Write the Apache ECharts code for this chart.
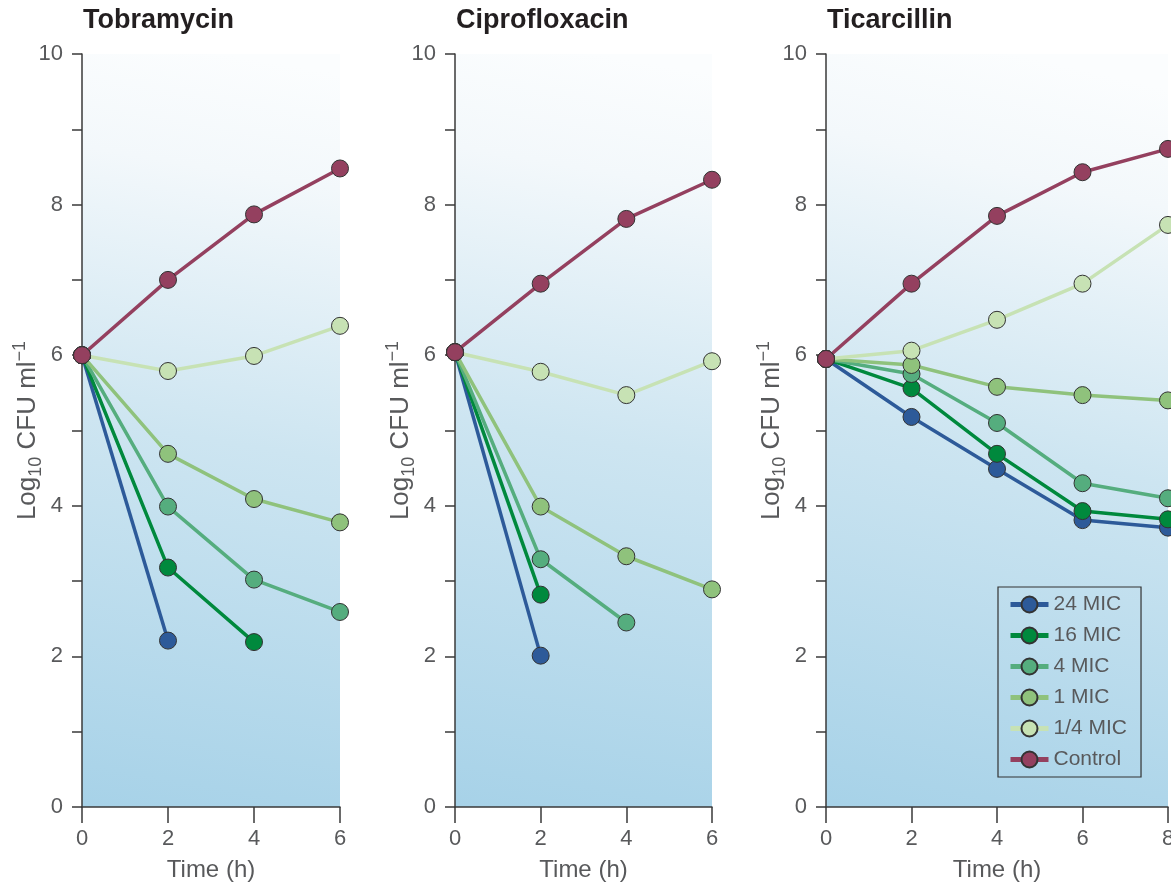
<!DOCTYPE html>
<html>
<head>
<meta charset="utf-8">
<title>Time-kill curves</title>
<script src="https://cdn.jsdelivr.net/npm/echarts@6/dist/echarts.min.js"></script>
<style>
  html, body { margin: 0; padding: 0; background: #fff; }
  #chart { width: 1171px; height: 885px; }
</style>
</head>
<body>
<div id="chart"></div>
<script>
// series names and colours (legend order)
var seriesNames = ['24 MIC', '16 MIC', '4 MIC', '1 MIC', '1/4 MIC', 'Control'];
var seriesColors = ['#2d5a99', '#00893d', '#55ad7e', '#8fc27c', '#c7e2b4', '#94405f'];
var drugNames = ['Tobramycin', 'Ciprofloxacin', 'Ticarcillin'];

// sampling times (h)
var timesShort = [0, 2, 4, 6];
var timesLong = [0, 2, 4, 6, 8];
var xTickLabels = ['0', '2', '4', '6', '8'];
var yTickLabels = ['0', '2', '4', '6', '8', '10'];

// log10 CFU/ml, one array per concentration
var tobra24 = [6.0, 2.21];
var tobra16 = [6.0, 3.18, 2.19];
var tobra4 = [6.0, 3.99, 3.02, 2.59];
var tobra1 = [6.0, 4.69, 4.09, 3.78];
var tobraQuarter = [6.0, 5.79, 5.99, 6.39];
var tobraControl = [6.0, 7.0, 7.87, 8.48];

var cipro24 = [6.04, 2.01];
var cipro16 = [6.04, 2.82];
var cipro4 = [6.04, 3.29, 2.45];
var cipro1 = [6.04, 3.99, 3.33, 2.89];
var ciproQuarter = [6.04, 5.78, 5.47, 5.92];
var ciproControl = [6.04, 6.95, 7.81, 8.33];

var ticar24 = [5.95, 5.18, 4.49, 3.81, 3.71];
var ticar16 = [5.95, 5.56, 4.69, 3.93, 3.82];
var ticar4 = [5.95, 5.75, 5.1, 4.3, 4.1];
var ticar1 = [5.95, 5.87, 5.58, 5.47, 5.4];
var ticarQuarter = [5.95, 6.06, 6.47, 6.95, 7.73];
var ticarControl = [5.95, 6.95, 7.85, 8.43, 8.74];

var panels = [
  { times: timesShort, max: 6, values: [tobra24, tobra16, tobra4, tobra1, tobraQuarter, tobraControl] },
  { times: timesShort, max: 6, values: [cipro24, cipro16, cipro4, cipro1, ciproQuarter, ciproControl] },
  { times: timesLong, max: 8, values: [ticar24, ticar16, ticar4, ticar1, ticarQuarter, ticarControl] }
];

// grid placement, pixels
var gridLefts = [82, 455, 826];
var gridWidths = [258, 257, 342];

var textColor = '#58595b';
var axisColor = '#3a3a3a';
var fontFamily = '"Liberation Sans", Arial, sans-serif';

function plotBackground() {
  return new echarts.graphic.LinearGradient(0.05, 1, 0.55, 0, [
    { offset: 0, color: '#a7d2e8' },
    { offset: 0.5, color: '#cde5f1' },
    { offset: 0.85, color: '#f3f8fb' },
    { offset: 1, color: '#fbfdfe' }
  ]);
}

var option = {
  animation: false,
  textStyle: { fontFamily: fontFamily },
  title: [],
  grid: [],
  xAxis: [],
  yAxis: [],
  series: [],
  legend: {
    data: seriesNames,
    orient: 'vertical',
    left: 998,
    top: 587,
    padding: [7, 14, 7, 10],
    itemWidth: 38,
    itemHeight: 20,
    itemGap: 10,
    borderColor: '#333',
    borderWidth: 1.2,
    borderRadius: 0,
    lineStyle: { width: 5 },
    textStyle: { fontSize: 21, lineHeight: 20, color: textColor, fontFamily: fontFamily }
  }
};

for (var p = 0; p < panels.length; p++) {
  var panel = panels[p];
  option.title.push({
    text: drugNames[p],
    left: gridLefts[p] + 1,
    top: 7,
    padding: 0,
    textStyle: { fontSize: 27, fontWeight: 'bold', color: '#231f20', fontFamily: fontFamily }
  });
  option.grid.push({
    left: gridLefts[p],
    top: 54,
    width: gridWidths[p],
    height: 753,
    show: true,
    borderWidth: 0,
    outerBoundsMode: 'none',
    containLabel: false,
    backgroundColor: plotBackground()
  });
  option.xAxis.push({
    type: 'value',
    gridIndex: p,
    min: 0,
    max: panel.max,
    interval: 2,
    name: 'Time (h)',
    nameLocation: 'middle',
    nameGap: 51,
    nameTextStyle: { fontSize: 24, color: textColor },
    axisLine: { show: true, lineStyle: { color: axisColor, width: 1.5 } },
    axisTick: { show: true, length: 16, lineStyle: { color: axisColor, width: 1.5 } },
    axisLabel: {
      fontSize: 22,
      color: textColor,
      margin: 21,
      formatter: function (v) { return xTickLabels[v / 2]; }
    },
    splitLine: { show: false }
  });
  option.yAxis.push({
    type: 'value',
    gridIndex: p,
    min: 0,
    max: 10,
    interval: 1,
    name: '{a|Log}{sub|10}{a| CFU ml}{sup|\u22121}',
    nameLocation: 'middle',
    nameGap: 37,
    nameMoveOverlap: false,
    nameTextStyle: {
      color: textColor,
      rich: {
        a: { fontSize: 26, lineHeight: 34, color: textColor, fontFamily: fontFamily },
        sub: { fontSize: 18, lineHeight: 34, verticalAlign: 'bottom', color: textColor, fontFamily: fontFamily },
        sup: { fontSize: 18, lineHeight: 34, verticalAlign: 'top', color: textColor, fontFamily: fontFamily }
      }
    },
    axisLine: { show: true, lineStyle: { color: axisColor, width: 1.5 } },
    axisTick: { show: true, length: 10, lineStyle: { color: axisColor, width: 1.5 } },
    axisLabel: {
      fontSize: 22,
      color: textColor,
      margin: 19,
      formatter: function (v) { return v % 2 === 0 ? yTickLabels[v / 2] : ''; }
    },
    splitLine: { show: false }
  });

  for (var s = 0; s < seriesNames.length; s++) {
    var vals = panel.values[s];
    var pts = [];
    for (var i = 0; i < vals.length; i++) {
      pts.push([panel.times[i], vals[i]]);
    }
    option.series.push({
      type: 'line',
      name: seriesNames[s],
      xAxisIndex: p,
      yAxisIndex: p,
      data: pts,
      symbol: 'circle',
      symbolSize: 17,
      showSymbol: true,
      lineStyle: { color: seriesColors[s], width: 3.5 },
      itemStyle: { color: seriesColors[s], borderColor: '#333', borderWidth: 1 },
      emphasis: { disabled: true }
    });
  }
}

var chart = echarts.init(document.getElementById('chart'));
chart.setOption(option);
</script>
</body>
</html>
